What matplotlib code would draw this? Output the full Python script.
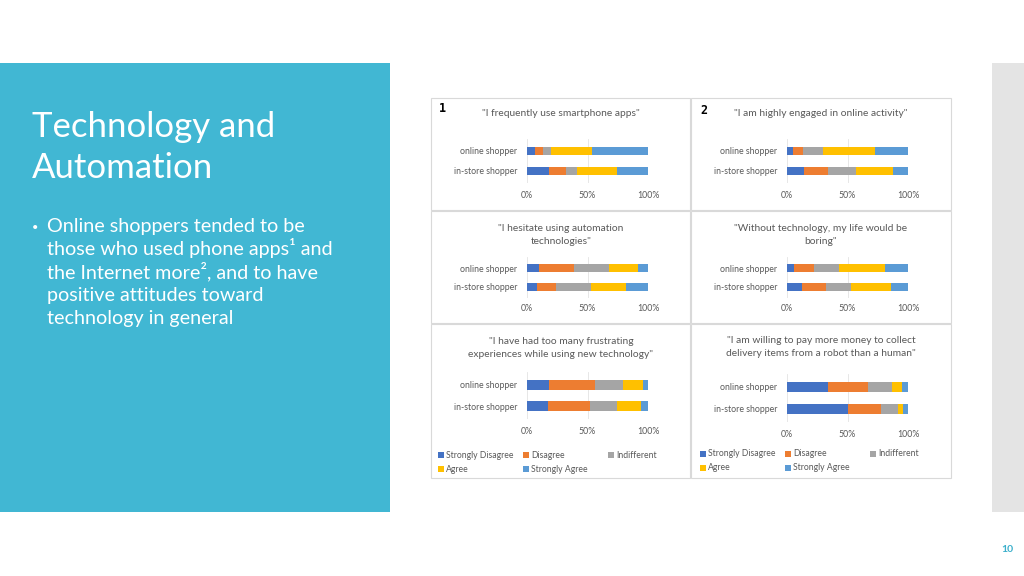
import matplotlib.pyplot as plt
from matplotlib.patches import Rectangle

W, H = 1024, 576

# answer scale and colours (Excel defaults)
responses = ['Strongly Disagree', 'Disagree', 'Indifferent', 'Agree', 'Strongly Agree']
colors = ['#4472C4', '#ED7D31', '#A5A5A5', '#FFC000', '#5B9BD5']
groups = ['in-store shopper', 'online shopper']

titles = [
    '"I frequently use smartphone apps"',
    '"I am highly engaged in online activity"',
    '"I hesitate using automation\ntechnologies"',
    '"Without technology, my life would be\nboring"',
    '"I have had too many frustrating\nexperiences while using new technology"',
    '"I am willing to pay more money to collect\ndelivery items from a robot than a human"',
]

# percentages per answer
online = [
    [7, 6, 7, 34, 46],
    [5, 8, 17, 43, 27],
    [10, 29, 29, 24, 8],
    [6, 16, 21, 38, 19],
    [18, 38, 23, 17, 4],
    [34, 33, 20, 8, 5],
]
instore = [
    [18, 14, 9, 33, 26],
    [14, 20, 23, 31, 12],
    [8, 16, 29, 29, 18],
    [12, 20, 21, 33, 14],
    [17, 35, 22, 20, 6],
    [50, 28, 14, 4, 4],
]

tick_vals = [0, 50, 100]
tick_text = ['0%', '50%', '100%']

bullet_lines = ['Online shoppers tended to be', 'those who used phone apps¹ and',
                'the Internet more², and to have', 'positive attitudes toward',
                'technology in general']

# pixel layout per chart: 0% x, 100% x, online bar y, in-store bar y, tick y, title y
layout = [
    (527, 648, 151, 171, 196, 114),
    (787, 908, 151, 171, 196, 114),
    (527, 648, 268, 287, 309, 235),
    (787, 908, 268, 287, 309, 235),
    (527, 648, 385, 406, 432, 348),
    (787, 908, 387, 409, 435, 347),
]
title_x = [561, 821]
cells = [(431, 98, 690, 210), (691, 98, 951, 210),
         (431, 211, 690, 323), (691, 211, 951, 323),
         (431, 324, 690, 478), (691, 324, 951, 478)]


def fx(x):
    return x / W


def fy(y):
    return 1 - y / H


fig = plt.figure(figsize=(W / 100, H / 100), dpi=100)
fig.patch.set_facecolor('white')

# slide background panels
fig.add_artist(Rectangle((0, fy(512)), fx(390), (512 - 63) / H,
                         transform=fig.transFigure, color='#41B7D3', lw=0, zorder=-5))
fig.add_artist(Rectangle((fx(992), fy(512)), fx(32), (512 - 63) / H,
                         transform=fig.transFigure, color='#E4E4E4', lw=0, zorder=-5))

# chart cell frames
for x0, y0, x1, y1 in cells:
    fig.add_artist(Rectangle((fx(x0), fy(y1)), (x1 - x0) / W, (y1 - y0) / H,
                             transform=fig.transFigure, facecolor='white',
                             edgecolor='#D9D9D9', lw=0.8, zorder=-4))

for i in range(6):
    x0, x1, yo, yi, ty, tt = layout[i]
    s = yi - yo
    top = yo - 0.6 * s
    bot = yi + 0.6 * s
    ax = fig.add_axes([fx(x0), fy(bot), (x1 - x0) / W, (bot - top) / H])
    ax.set_zorder(2)
    ax.set_facecolor('none')

    left = [0, 0]
    for k, resp in enumerate(responses):
        vals = [instore[i][k], online[i][k]]
        ax.barh([0, 1], vals, left=left, height=0.44, color=colors[k], lw=0, zorder=3)
        left = [left[0] + vals[0], left[1] + vals[1]]

    ax.set_xlim(0, 100)
    ax.set_ylim(-0.6, 1.6)
    ax.set_xticks(tick_vals)
    ax.set_xticklabels(tick_text, fontsize=6.3, color='#595959', family='Lato')
    ax.set_yticks([0, 1])
    ax.set_yticklabels(groups, fontsize=6.3, color='#595959', family='Lato')
    pad = (ty - bot - 4.5) / 1.389
    ax.tick_params(axis='x', length=0, pad=pad)
    ax.tick_params(axis='y', length=0, pad=7)
    ax.grid(axis='x', color='#E3E3E3', lw=0.6, zorder=0)
    for sp in ax.spines.values():
        sp.set_visible(False)

    fig.text(fx(title_x[i % 2]), fy(tt), titles[i], ha='center', va='center',
             fontsize=7.4, color='#595959', family='Lato', linespacing=1.45)

# chart numbers
fig.text(fx(442), fy(108), '1', ha='center', va='center', fontsize=8.5,
         fontweight='bold', family='DejaVu Sans Mono', color='black')
fig.text(fx(704), fy(111), '2', ha='center', va='center', fontsize=8.5,
         fontweight='bold', family='DejaVu Sans Mono', color='black')

# legends under the bottom charts
for lx, ly in [(441, 455), (703, 454)]:
    for k, resp in enumerate(responses):
        px = lx + 85 * (k % 3)
        py = ly + 14 * (k // 3)
        fig.add_artist(Rectangle((fx(px - 3), fy(py + 3)), 6 / W, 6 / H,
                                 transform=fig.transFigure, color=colors[k], lw=0))
        fig.text(fx(px + 5), fy(py), resp, ha='left', va='center', fontsize=6.2,
                 color='#595959', family='Lato')

# slide text
fig.text(fx(32), fy(137), 'Technology and', ha='left', va='baseline',
         fontsize=25, color='white', family='Lato')
fig.text(fx(32), fy(178), 'Automation', ha='left', va='baseline',
         fontsize=25, color='white', family='Lato')
fig.text(fx(32), fy(228), '•', ha='left', va='center', fontsize=8, color='white', family='Lato')
for j, line in enumerate(bullet_lines):
    fig.text(fx(47), fy(232 + 23 * j), line, ha='left', va='baseline',
             fontsize=14.2, color='white', family='Lato')

fig.text(fx(1007), fy(549), '10', ha='center', va='center', fontsize=7.5,
         fontweight='bold', color='#3AAFCB', family='Lato')

fig.savefig('out.png', dpi=100)
